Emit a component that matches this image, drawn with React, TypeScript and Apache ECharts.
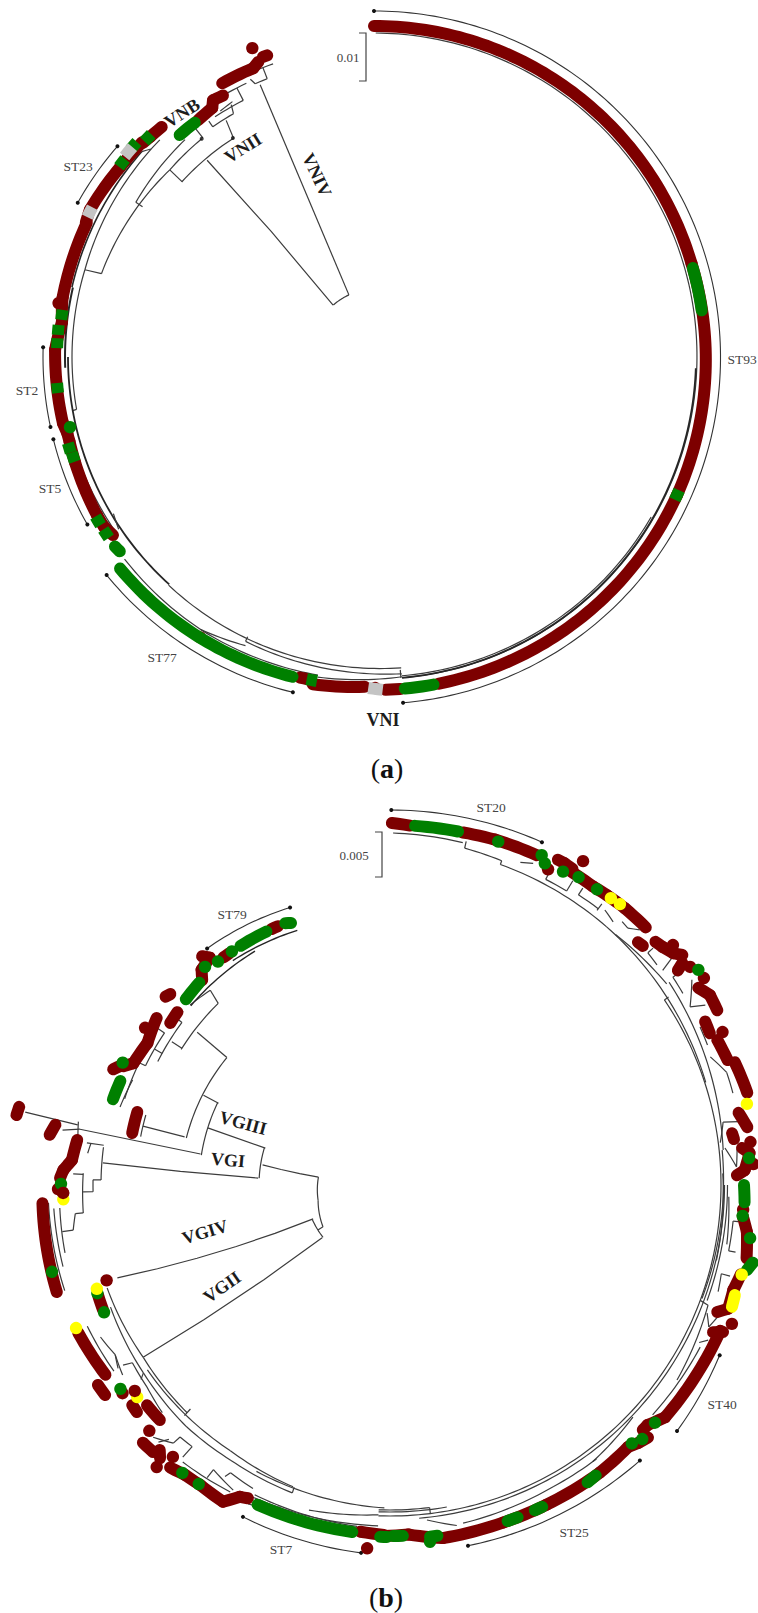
import React, { useEffect, useRef } from "react";
import * as echarts from "echarts";

type Row = number[];
const R = 0, G = 1, S = 2, Y = 3;
const statusColors = ["#7d0000", "#008000", "#c4c4c4", "#ffff00"];

// every row: [angleStart, radiusStart, angleEnd, radiusEnd, status or line width]
const vnTips: Row[] = [
  [0, 331, 73.6, 331, R], [73.6, 331, 114.5, 333, R], [114.5, 333, 168.9, 333, R], [175.5, 333, 178, 333, R],
  [179.8, 331, 179.8, 331, R], [181.6, 330, 190.6, 333, R], [191.6, 329, 193, 329, R], [211.8, 330, 211.8, 330, R],
  [235.7, 316, 238, 319, R], [237.6, 319, 240.3, 319, R], [240.3, 319, 250.5, 317, R], [250.5, 317, 254.5, 316, R],
  [254.5, 316, 256, 316, R], [256, 316, 258, 318, R], [258, 318, 271.3, 319, R], [271.3, 319, 276.4, 314, R], [276.4, 314, 279, 316, R],
  [279.7, 320, 279.7, 320, R], [279, 316, 280.9, 317, R], [280.9, 317, 295, 317, R], [295, 318, 297.4, 320, R], [297.4, 320, 306.7, 317, R],
  [306.7, 317, 312.8, 316, R], [312.8, 315, 314.5, 314, R],
  [314.5, 314, 317.3, 313, R], [323.4, 295, 327, 297, R], [327, 297, 327.9, 303, R], [327.9, 303, 330, 302, R], [331, 313, 337.3, 313, R], [337.3, 313, 338.6, 317, R],
  [338.5, 332, 338.5, 332, R], [339.7, 320, 340.5, 320, R],
  [73.6, 331, 82.7, 331, G], [114.5, 333, 114.5, 333, G], [168.9, 333, 175.5, 333, G], [190.9, 329, 190.9, 329, G],
  [193.5, 330, 231, 330.5, G], [231.8, 320, 234.6, 321, G], [236.6, 321, 236.6, 321, G], [239.3, 321, 239.3, 321, G],
  [251.6, 317, 251.6, 317, G], [253.4, 318, 253.4, 318, G], [257, 312, 257, 312, G], [264.4, 318, 264.4, 318, G],
  [272.5, 317, 272.5, 317, G], [274.9, 317, 274.9, 317, G], [277.7, 315, 277.7, 315, G], [307.6, 318, 307.6, 318, G],
  [311.3, 320, 311.3, 320, G], [314.1, 315, 314.1, 315, G], [318, 295, 323.4, 295, G],
  [178.5, 333, 181, 331, S], [296, 319, 298, 319, S], [308.8, 320, 311, 320, S],
];

const vnBranches: Row[] = [
  [322, 66, 338, 67], [338, 67, 337.3, 295], [321.7, 66, 319.7, 258], [312.3, 260, 327.3, 260], [312.4, 260, 312.5, 277],
  [312.5, 277, 321.7, 278], [287, 285, 312.5, 277], [287, 285, 286.8, 302], [286.8, 302, 315.4, 305], [303, 276, 303, 284],
  [303, 284, 319, 288], [327.3, 260, 328, 279], [325, 281, 330, 281], [325, 281, 325, 288], [330, 281, 330.5, 290],
  [326.5, 288, 333, 288], [333, 288, 333, 302], [331, 302, 335, 302], [328, 290, 331, 292], [322, 278, 322, 291],
  [319, 291, 324, 291], [336.5, 298, 339, 298], [336.5, 298, 336, 304], [339, 298, 339, 310], [336.5, 310, 341, 310],
  [283, 310, 311.5, 310, 1.6], [311.5, 310, 313, 305], [306, 312, 309, 312], [286.8, 302, 260, 302], [260, 302, 259.9, 306],
  [283, 309, 268, 309, 2], [270, 306, 222, 306, 1.8], [256, 313, 235, 312], [239, 304, 236, 308], [175, 312, 222, 307],
  [204.3, 307, 204.3, 312], [175, 318, 204.3, 312], [204, 316, 212.5, 323], [190, 323, 212, 323], [212, 323, 231, 321],
  [175.2, 314, 175.2, 322], [175, 321, 190, 325], [0.3, 324, 175, 322], [92, 322, 175, 322, 1.8], [120, 320, 175, 320, 1.2],
];

const vnClades: Row[] = [
  [0, 346, 175.2, 347], [230.8, 345, 193.6, 345], [255.6, 331, 239.7, 332], [271.7, 331, 257.8, 331], [297.5, 334, 309.4, 332],
];
const vnNodes: Row[] = [[260.5, 327.2], [278, 321.7]];

const vgTips: Row[] = [
  [0.3, 362, 3.2, 360, R], [11.7, 360, 16.9, 361, R], [16.9, 361, 24, 361, R], [26.6, 353, 26.6, 353, R], [27.3, 366, 28.5, 366, R],
  [28.5, 366, 30, 365, R], [30.8, 377, 30.8, 377, R], [30, 362, 34.2, 361, R], [34.2, 361, 36.8, 362, R], [36.8, 362, 40.3, 363, R],
  [40.3, 363, 44.8, 363, R], [45.6, 347, 46.6, 348, R], [47.5, 360, 48.9, 362, R], [48.9, 362, 50.7, 366, R], [49.7, 371, 49.7, 371, R], [50.7, 366, 51.8, 372, R],
  [53.3, 359, 52.8, 367, R], [54, 371, 54, 371, R], [56.6, 376, 56.6, 376, R], [57.4, 366, 59.3, 372, R], [59.3, 372, 61.9, 371, R],
  [62.6, 355, 64.6, 354, R], [65.3, 366, 65.3, 366, R], [66.1, 358, 69.7, 360, R], [70.4, 366, 75.5, 369, R], [78.3, 356, 80.8, 362, R],
  [81.4, 346, 82.4, 347, R], [83.2, 363, 83.2, 363, R], [84, 354, 84.9, 361, R], [86.7, 364, 86.7, 364, R], [84.9, 361, 87.6, 355, R],
  [87.6, 355, 88.4, 347, R], [94, 354, 94, 354, R], [95, 354, 97.5, 360, R], [97.5, 360, 101.6, 364, R], [104.3, 362, 107, 359, R],
  [107, 359, 110.1, 360, R], [110.1, 360, 111.2, 351, R], [112.1, 369, 112.1, 369, R], [114.5, 355, 113.8, 364, R], [113.8, 361, 130.2, 360, R],
  [130.2, 360, 133, 352, R], [133, 352, 134.1, 352, R], [134.4, 361, 136.1, 358, R], [136.1, 358, 137.7, 354, R], [137.7, 354, 143.9, 356, R], [143.9, 356, 153.9, 356, R],
  [153.9, 356, 161.5, 356, R], [161.5, 356, 171.5, 357, R], [171.5, 357, 177, 350, R], [177, 350, 181, 351, R], [181, 350, 184.9, 348, R],
  [183.6, 364, 183.6, 364, R], [204.4, 344, 205.7, 346, R], [205.7, 346, 207.8, 358, R], [207.8, 358, 212.3, 355, R], [212.3, 355, 215.3, 355, R],
  [215.3, 355, 217.9, 358, R], [218.6, 348, 218.6, 348, R], [219.6, 366, 219.6, 366, R], [221, 351, 220.1, 357, R], [223.8, 357, 221.6, 357, R],
  [224.4, 344, 224.4, 344, R], [227.8, 328, 224.4, 329, R], [229.5, 339, 228.1, 340, R], [232.1, 339, 232.1, 339, R],
  [233.6, 354, 235.6, 354, R], [236.3, 342, 244.6, 345, R], [246.5, 313, 249.4, 312, R], [251.4, 299, 251.4, 299, R], [252.2, 350, 267, 348, R],
  [268.6, 327, 268.6, 327, R], [269.3, 332, 269.3, 332, R], [271.2, 330, 272.6, 327, R], [272.6, 327, 274.5, 319, R], [274.5, 319, 278.2, 316, R], [278.4, 344, 280.2, 340, R],
  [280.6, 380, 281.9, 379, R], [281.4, 263, 286.1, 263, R], [292.7, 300, 294, 294, R], [294, 292, 295.4, 284, R], [295.4, 284, 300.3, 281, R], [300.3, 281, 305.6, 287, R],
  [302.7, 291, 302.7, 291, R], [306.4, 273, 309.1, 274, R], [310, 293, 311, 291, R], [317.5, 278, 318.8, 286, R], [318.8, 286, 321.6, 290, R], [320.6, 296, 321.6, 290, R],
  [323.8, 282, 325.3, 282, R], [335.2, 282, 336.6, 282, R],
  [3.2, 360, 11.7, 360, G], [17.5, 360, 17.5, 360, G], [24.7, 363, 24.7, 363, G], [25.7, 357, 25.7, 357, G], [28.9, 358, 28.9, 358, G],
  [31.5, 361, 31.5, 361, G], [35, 361, 35, 361, G], [55.1, 376, 55.1, 376, G], [85.7, 360, 85.7, 360, G], [89.2, 354, 93.6, 355, G],
  [95, 354, 95, 354, G], [98.4, 364, 98.4, 364, G], [102.1, 371, 103.4, 367, G], [131.9, 356, 131.9, 356, G], [135.2, 358, 135.2, 358, G],
  [136.9, 354, 136.9, 354, G], [143.9, 356, 147.2, 357, G], [153.9, 356, 156.8, 356, G], [158.2, 356, 161.5, 356, G], [171.5, 354, 174.3, 354, G],
  [173.6, 359, 173.6, 359, G], [177.9, 351, 179.5, 351, G], [180.5, 352, 181.6, 352, G], [185.4, 349, 203.3, 346, G], [212.6, 355, 212.6, 355, G],
  [215.8, 355, 215.8, 355, G], [232.9, 338, 232.9, 338, G], [246, 313, 246, 313, G], [249.7, 312, 249.7, 312, G], [255.6, 349, 255.6, 349, G],
  [270.2, 329, 270.2, 329, G], [286.4, 290, 291.9, 289, G], [294.6, 294, 294.6, 294, G], [311.5, 276, 317.5, 278, G], [319.7, 286, 319.7, 286, G],
  [322.4, 282, 322.4, 282, G], [325.9, 282, 325.9, 282, G], [327.2, 282, 334.8, 282, G], [337.4, 282, 340.1, 280, G],
  [37.6, 362, 37.6, 362, Y], [39.3, 363, 39.3, 363, Y], [77.2, 366, 77.2, 366, Y], [104.3, 363, 104.3, 363, Y], [107.7, 362, 109.6, 363, Y],
  [230, 330, 230, 330, Y], [245.5, 345, 245.5, 345, Y], [250.5, 311, 250.5, 311, Y], [267.5, 327, 267.5, 327, Y],
];
// these two red tips lie over a yellow one in the picture
const vgTipsOnTop: Row[] = [[231.1, 328, 231.1, 328, R], [268.6, 327, 268.6, 327, R]];

const vgBranches: Row[] = [
  [276.3, 72, 258, 73.5], [258, 73.5, 238, 79], [232, 85, 246, 85], [238, 79, 238, 85], [246.2, 84, 251.2, 288], [232.1, 86, 235.1, 301],
  [276.3, 72, 279, 129], [273, 131, 286.5, 131], [273, 132, 274.4, 288], [286.5, 130, 287.4, 191], [279, 191, 295.5, 191], [279.3, 192, 280.2, 315],
  [279, 316, 281.5, 318], [280.9, 318, 281.3, 372], [280.2, 315, 279.5, 332], [295.5, 190, 295.7, 207], [283, 209, 308, 207], [283.2, 211, 283.4, 254],
  [281, 254, 286, 254], [308, 207, 308.4, 246], [303, 249, 316.6, 250], [303.3, 249, 303.3, 261], [316.6, 250, 317.3, 265], [312, 269, 317.3, 265],
  [325, 274, 340, 271, 1.4], [312, 268, 330, 270, 1.4], [286.1, 281, 292.2, 278], [298, 263, 308, 264], [300, 263, 300, 272], [296, 272, 304, 272],
  [304, 272, 304, 280], [296, 272, 296, 279], [288, 279, 297, 279], [308, 264, 308, 270], [306, 270, 310, 270],
  [271, 289, 277.5, 289], [277.9, 289, 277.9, 306], [277.9, 302, 276, 304], [271, 289, 271, 297], [271, 297, 268.7, 297], [268.7, 297, 268.7, 307],
  [272.2, 307, 264.8, 308], [272, 307, 272, 317], [264.8, 308, 264.8, 316], [264.8, 316, 261.9, 320], [261.9, 320, 261.9, 331], [266, 331, 258.2, 332],
  [252, 342, 267, 342], [256, 337, 266, 337], [250, 301, 235, 301], [235, 301, 221.7, 305], [221.7, 300, 221.7, 309], [232.7, 305, 211, 310], [211, 310, 197.8, 317],
  [246.4, 305, 232.7, 310], [232.7, 310, 220, 316], [220, 316, 210, 318], [210, 318, 197.6, 323],
  [197.6, 317, 197.6, 323], [205, 316, 181, 323], [204, 341, 182, 341], [194, 335, 182, 330], [182, 331, 56, 331, 1.2], [56, 331, 56, 336], [182, 325, 173, 325],
  [173, 325, 173, 331], [182, 327, 170, 327], [175, 334.5, 90, 334.5], [90, 337.5, 110, 337.5], [0.5, 352, 12, 350], [12.5, 352, 12.5, 345], [12.5, 345, 19, 343], [19, 343, 19, 339], [19, 339, 40, 337], [40, 337, 72, 332],
  [42, 337, 54, 342], [54, 345, 84, 335], [84, 334, 110, 332], [88, 333, 103, 335], [92, 339, 100, 342], [110.4, 331, 110.7, 340], [110.7, 340, 124.2, 347],
  [133.7, 336, 143.8, 343], [151.6, 343, 167.8, 346], [131.2, 349, 117.6, 350], [173.7, 337, 168.9, 347], [143, 343, 151.6, 343],
  [27, 343, 31, 343], [27, 343, 27, 350], [31, 343, 31, 355], [33, 346, 37, 346], [33, 346, 33, 354], [37, 344, 37, 352], [38, 349, 40.3, 345], [41.4, 351, 42.8, 350], [42.8, 350, 44.4, 357],
  [48, 347, 50.5, 346], [48, 347, 48, 354], [51.8, 347, 51.1, 363], [53.7, 351, 56.8, 350], [53.7, 351, 53.7, 358], [55.8, 365, 59.3, 349], [59.3, 349, 60.3, 363], [63, 348, 66.2, 347],
  [68.2, 345, 71.5, 355], [71.5, 355, 75, 355], [79.3, 339, 79.7, 354], [79.3, 339, 82.7, 333], [83.7, 337, 87, 347], [87, 347, 84, 349],
  [96, 345, 101, 345], [101, 345, 101, 352], [96, 345, 96, 350], [105, 343, 108, 345], [105, 343, 105, 352], [112, 342, 114, 349], [114, 349, 112, 353], [117, 347, 116, 354],
  [22, 348, 24, 352], [204, 349, 199, 345], [199, 345, 199, 340], [245, 334, 236, 333], [242.3, 327, 238.3, 323], [238.3, 323, 234.6, 328], [238.3, 323, 236, 328],
  [235.4, 313, 230.3, 316], [230.3, 316, 225, 322], [235.4, 313, 236, 322], [232.7, 310, 232, 316], [219.8, 328, 217.1, 328], [217.1, 328, 217.3, 342], [219.8, 328, 220, 337],
  [220, 337, 223.2, 346], [221, 337, 222, 346], [211.8, 335, 212, 345], [211.8, 335, 207.2, 343], [209, 329, 209.5, 335], [209, 329, 204.3, 333], [216.8, 346, 207.5, 346],
  [203.6, 338, 185.5, 343],
];

const vgClades: Row[] = [
  [0.2, 375, 23.9, 375], [117.3, 371, 130.6, 378], [137.8, 372, 167.8, 369], [203.9, 363, 184.5, 369], [340.2, 295, 322.3, 299],
];

const stLabels: [string, number, number][] = [
  ["ST93", 742, 359], ["ST77", 162, 657], ["ST5", 50, 488], ["ST2", 27, 390], ["ST23", 78, 166],
  ["ST20", 491, 807], ["ST40", 722, 1404], ["ST25", 574, 1532], ["ST7", 281, 1549], ["ST79", 232, 914],
];
const cladeLabels: [string, number, number, number][] = [
  ["VNB", 182, 113, 33], ["VNII", 243, 148, 32], ["VNIV", 317, 175, -65], ["VNI", 383, 720, 0],
  ["VGIII", 243, 1123, -15], ["VGI", 228, 1160, -5], ["VGIV", 205, 1232, 17], ["VGII", 222, 1287, 35],
];
const scaleBars: [string, number, number, number, number, number][] = [
  ["0.01", 348, 57, 366, 33, 81], ["0.005", 354, 855, 382, 832, 877],
];

const SERIF = '"Liberation Serif", "DejaVu Serif", serif';

function arcPoints(api: any, a0: number, r0: number, a1: number, r1: number) {
  const n = Math.max(1, Math.ceil(Math.abs(a1 - a0)));
  const out: number[][] = [];
  for (let i = 0; i <= n; i++) {
    const t = i / n;
    out.push(api.coord([r0 + (r1 - r0) * t, a0 + (a1 - a0) * t]));
  }
  return out;
}

const tipRenderer = (stripes: boolean) => (_: any, api: any) => {
  let a0 = api.value(0), a1 = api.value(2);
  const r0 = api.value(1), r1 = api.value(3), s = api.value(4);
  const stroke = statusColors[s];
  let cap = s === S ? "butt" : "round";
  if (a0 === a1 && r0 === r1) {
    if (stripes && s === G && r0 >= 314) {
      a0 -= 0.9;
      a1 += 0.9;
      cap = "butt";
    } else {
      const p = api.coord([r0, a0]);
      return { type: "circle", shape: { cx: p[0], cy: p[1], r: 6.2 }, style: { fill: stroke } };
    }
  } else if (s === G && Math.abs(a1 - a0) > 2) {
    a0 += 0.8;
    a1 -= 0.8;
  }
  return {
    type: "polyline",
    shape: { points: arcPoints(api, a0, r0, a1, r1) },
    style: { fill: "none", stroke, lineWidth: 12, lineCap: cap, lineJoin: "round" },
  };
};

function renderBranch(_: any, api: any) {
  const w = api.value(4);
  return {
    type: "polyline",
    shape: { points: arcPoints(api, api.value(0), api.value(1), api.value(2), api.value(3)) },
    style: { fill: "none", stroke: w > 1.3 ? "#262626" : "#3c3c3c", lineWidth: Math.max(w, 1.2) },
  };
}

function renderClade(_: any, api: any) {
  const pts = arcPoints(api, api.value(0), api.value(1), api.value(2), api.value(3));
  const a = pts[0], b = pts[pts.length - 1];
  return {
    type: "group",
    children: [
      { type: "polyline", shape: { points: pts }, style: { fill: "none", stroke: "#333", lineWidth: 1.1 } },
      { type: "circle", shape: { cx: a[0], cy: a[1], r: 2 }, style: { fill: "#111" } },
      { type: "circle", shape: { cx: b[0], cy: b[1], r: 2 }, style: { fill: "#111" } },
    ],
  };
}

const full = (rows: Row[], d: number) => rows.map((r) => [r[0], r[1], r[2], r[3], r[4] ?? d]);
const layered = (rows: Row[]) => [...rows].sort((p, q) => p[4] - q[4]);

function seg(name: string, polarIndex: number, data: Row[], renderItem: any) {
  return {
    type: "custom",
    name,
    coordinateSystem: "polar",
    polarIndex,
    renderItem,
    silent: true,
    encode: { radius: 1, angle: 0 },
    data,
  };
}

export default function App() {
  const ref = useRef<HTMLDivElement>(null);
  useEffect(() => {
    const chart = echarts.init(ref.current!, undefined, { renderer: "svg" });
    const hiddenAngle = { min: 0, max: 360, startAngle: 90, clockwise: true, show: false };
    const hiddenRadius = { min: 0, max: 400, show: false };
    const graphics: any[] = [];
    stLabels.forEach(([text, x, y]) =>
      graphics.push({
        type: "text", x, y, silent: true,
        style: { text, font: `13.5px ${SERIF}`, fill: "#444", align: "center", verticalAlign: "middle" },
      }),
    );
    cladeLabels.forEach(([text, x, y, deg]) =>
      graphics.push({
        type: "text", x, y, rotation: (deg * Math.PI) / 180, silent: true,
        style: { text, font: `bold 18px ${SERIF}`, fill: "#1c1c1c", align: "center", verticalAlign: "middle" },
      }),
    );
    scaleBars.forEach(([text, x, y, bx, top, bottom]) => {
      graphics.push({
        type: "text", x, y, silent: true,
        style: { text, font: `13px ${SERIF}`, fill: "#444", align: "center", verticalAlign: "middle" },
      });
      graphics.push({
        type: "polyline", silent: true,
        shape: { points: [[bx - 7, top], [bx, top], [bx, bottom], [bx - 7, bottom]] },
        style: { fill: "none", stroke: "#444", lineWidth: 1.2 },
      });
    });
    [["a", 387, 768], ["b", 386, 1597]].forEach(([t, x, y]) =>
      graphics.push({
        type: "text", x, y, silent: true,
        style: {
          text: `{n|(}{b|${t}}{n|)}`, align: "center", verticalAlign: "middle",
          rich: {
            n: { font: `28px ${SERIF}`, fill: "#111" },
            b: { font: `bold 28px ${SERIF}`, fill: "#111" },
          },
        },
      }),
    );
    chart.setOption({
      animation: false,
      polar: [
        { center: [374, 357], radius: 400 },
        { center: [390, 1185], radius: 400 },
      ],
      angleAxis: [{ ...hiddenAngle, polarIndex: 0 }, { ...hiddenAngle, polarIndex: 1 }],
      radiusAxis: [{ ...hiddenRadius, polarIndex: 0 }, { ...hiddenRadius, polarIndex: 1 }],
      series: [
        seg("VN branches", 0, full(vnBranches, 1), renderBranch),
        seg("VG branches", 1, full(vgBranches, 1), renderBranch),
        seg("VN clades", 0, full(vnClades, 0), renderClade),
        seg("VG clades", 1, full(vgClades, 0), renderClade),
        seg("VN tips", 0, layered(vnTips), tipRenderer(true)),
        seg("VG tips", 1, [...layered(vgTips), ...vgTipsOnTop], tipRenderer(false)),
        {
          type: "scatter", name: "VN nodes", coordinateSystem: "polar", polarIndex: 0, silent: true,
          symbolSize: 4, itemStyle: { color: "#111" }, data: vnNodes,
        },
      ],
      graphic: graphics,
    });
    return () => chart.dispose();
  }, []);
  return <div ref={ref} style={{ position: "absolute", left: 0, top: 0, width: 758, height: 1613 }} />;
}
